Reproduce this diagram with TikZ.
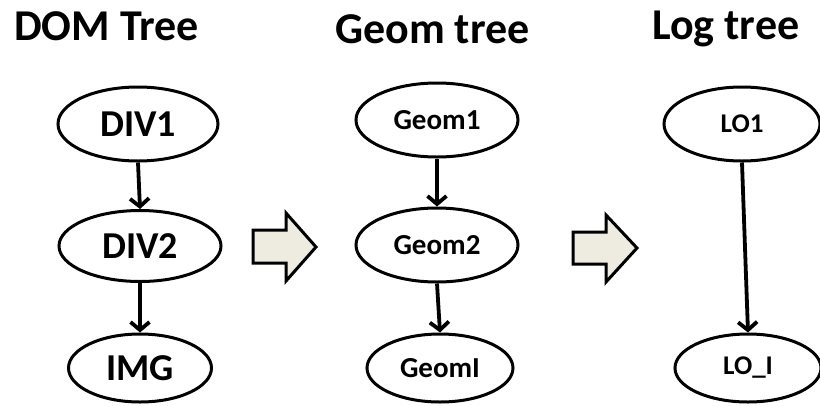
\documentclass[tikz,border=0pt]{standalone}
\usepackage{fontspec}
\setmainfont{Carlito}
\usetikzlibrary{shapes.geometric,arrows.meta}
\definecolor{blockfill}{HTML}{EEECE1}
\begin{document}
\begin{tikzpicture}[x=1pt,y=-1pt,
  title/.style={anchor=base west,inner sep=0,font=\fontsize{44}{48}\selectfont\bfseries},
  oval/.style={ellipse,draw,line width=3pt,inner sep=0},
  conn/.style={line width=3.8pt,-{Straight Barb[length=8pt,width=19pt]}},
  blockarrow/.style={draw,line width=3pt,fill=blockfill,line join=miter}
]
\useasboundingbox (0,0) rectangle (820,405);
% titles
\node[title] (t1) at (14,40) {DOM Tree};
\node[title] (t2) at (335,43) {Geom tree};
\node[title] (t3) at (652,39) {Log tree};
% DOM tree
\node[oval,minimum width=160pt,minimum height=74pt,font=\fontsize{38}{40}\selectfont\bfseries] (div1) at (138,124) {DIV1};
\node[oval,minimum width=162pt,minimum height=71pt,font=\fontsize{38}{40}\selectfont\bfseries] (div2) at (140,246) {DIV2};
\node[oval,minimum width=143pt,minimum height=68pt,font=\fontsize{38}{40}\selectfont\bfseries] (img) at (140,368) {IMG};
\draw[conn] (div1.south) -- (div2.north);
\draw[conn] (div2.south) -- (img.north);
% Geom tree
\node[oval,minimum width=162pt,minimum height=74pt,font=\fontsize{29}{32}\selectfont\bfseries] (g1) at (437,120) {Geom1};
\node[oval,minimum width=162pt,minimum height=74pt,font=\fontsize{29}{32}\selectfont\bfseries] (g2) at (437,245) {Geom2};
\node[oval,minimum width=146pt,minimum height=68pt,font=\fontsize{29}{32}\selectfont\bfseries] (gi) at (440,368) {GeomI};
\draw[conn] (g1.south) -- (g2.north);
\draw[conn] (g2.south) -- (gi.north);
% Log tree
\node[oval,minimum width=156pt,minimum height=74pt,font=\fontsize{27}{30}\selectfont\bfseries] (lo1) at (742,124) {LO1};
\node[oval,minimum width=146pt,minimum height=68pt,font=\fontsize{27}{30}\selectfont\bfseries] (loi) at (748,368) {LO\_I};
\draw[conn] (lo1.south) -- (loi.north);
% block arrows
\draw[blockarrow] (253,230) -- (286,230) -- (286,213) -- (316,247) -- (286,281) -- (286,263) -- (253,263) -- cycle;
\draw[blockarrow] (573,232) -- (606,232) -- (606,215) -- (637,248) -- (606,282) -- (606,264) -- (573,264) -- cycle;
\end{tikzpicture}
\end{document}
